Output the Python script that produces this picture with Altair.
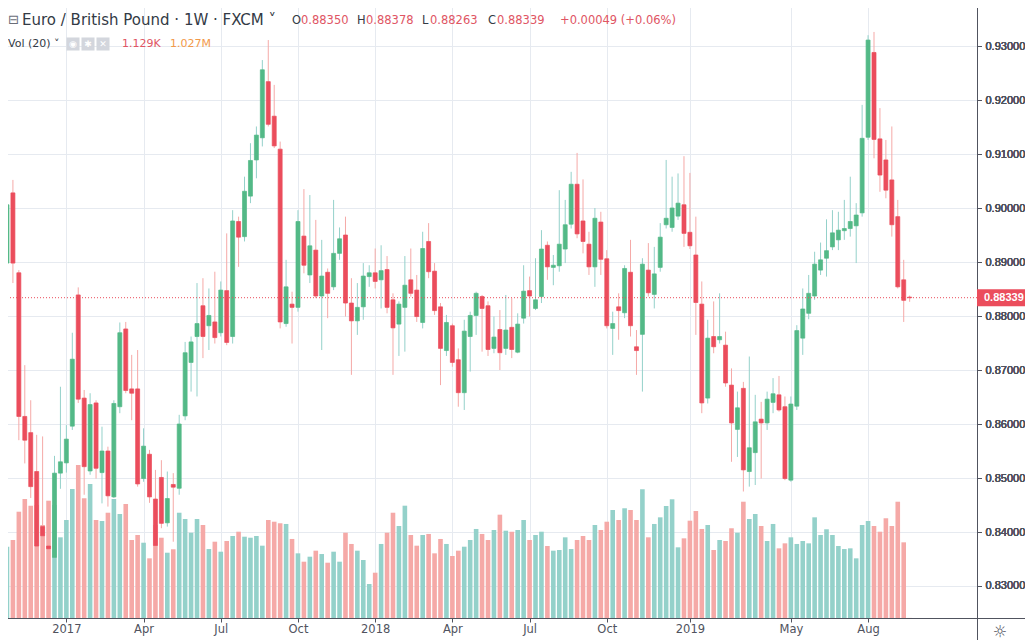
import altair as alt
import pandas as pd

# ---------------- data (weekly EUR/GBP, bar index 0 = week of 24 Oct 2016) ----------------
opens = [0.8898, 0.9028, 0.8880, 0.8614, 0.8584, 0.8512, 0.8410, 0.8374, 0.8353, 0.8509,
         0.8528, 0.8596, 0.8839, 0.8648, 0.8513, 0.8639, 0.8510, 0.8550, 0.8465, 0.8632,
         0.8776, 0.8665, 0.8665, 0.8499, 0.8544, 0.8461, 0.8501, 0.8417, 0.8488, 0.8481,
         0.8615, 0.8714, 0.8762, 0.8819, 0.8782, 0.8789, 0.8769, 0.8847, 0.8762, 0.8975,
         0.8947, 0.9022, 0.9089, 0.9130, 0.9234, 0.9170, 0.9109, 0.8786, 0.8822, 0.8816,
         0.8948, 0.8876, 0.8922, 0.8837, 0.8881, 0.8854, 0.8916, 0.8950, 0.8824, 0.8791,
         0.8817, 0.8873, 0.8880, 0.8867, 0.8886, 0.8830, 0.8785, 0.8816, 0.8867, 0.8848,
         0.8788, 0.8938, 0.8883, 0.8817, 0.8736, 0.8782, 0.8719, 0.8658, 0.8762, 0.8801,
         0.8836, 0.8819, 0.8740, 0.8775, 0.8740, 0.8779, 0.8733, 0.8796, 0.8847, 0.8814,
         0.8836, 0.8931, 0.8890, 0.8893, 0.8924, 0.8970, 0.9044, 0.8976, 0.8933, 0.8891,
         0.8974, 0.8906, 0.8777, 0.8817, 0.8806, 0.8881, 0.8743, 0.8766, 0.8885, 0.8840,
         0.8890, 0.8969, 0.8964, 0.8985, 0.9006, 0.8955, 0.8913, 0.8822, 0.8648, 0.8762,
         0.8756, 0.8746, 0.8672, 0.8590, 0.8666, 0.8512, 0.8547, 0.8609, 0.8602, 0.8640,
         0.8654, 0.8632, 0.8496, 0.8633, 0.8759, 0.8805, 0.8837, 0.8885, 0.8907, 0.8928,
         0.8941, 0.8958, 0.8962, 0.8967, 0.8991, 0.9131, 0.9288, 0.9128, 0.9089, 0.9052,
         0.8984, 0.8867, 0.88350]
highs = [0.9019, 0.9052, 0.8885, 0.8709, 0.8644, 0.8580, 0.8577, 0.8422, 0.8541, 0.8669,
         0.8598, 0.8769, 0.8853, 0.8663, 0.8657, 0.8644, 0.8595, 0.8558, 0.8644, 0.8788,
         0.8789, 0.8728, 0.8737, 0.8592, 0.8552, 0.8515, 0.8533, 0.8512, 0.8509, 0.8617,
         0.8752, 0.8762, 0.8861, 0.8870, 0.8851, 0.8882, 0.8864, 0.8953, 0.8996, 0.8984,
         0.9058, 0.9120, 0.9151, 0.9274, 0.9311, 0.9228, 0.9123, 0.8904, 0.8845, 0.8996,
         0.9035, 0.9024, 0.8978, 0.8941, 0.8888, 0.9015, 0.8964, 0.8984, 0.8870, 0.8861,
         0.8898, 0.8894, 0.8925, 0.8931, 0.8911, 0.8842, 0.8827, 0.8911, 0.8925, 0.8876,
         0.8956, 0.8972, 0.8898, 0.8824, 0.8802, 0.8786, 0.8740, 0.8793, 0.8808, 0.8845,
         0.8839, 0.8827, 0.8799, 0.8811, 0.8839, 0.8833, 0.8805, 0.8894, 0.8873, 0.8907,
         0.8959, 0.8938, 0.8913, 0.9033, 0.9015, 0.9067, 0.9102, 0.9053, 0.8956, 0.9000,
         0.8993, 0.8922, 0.8808, 0.8842, 0.8894, 0.8941, 0.8774, 0.8907, 0.8935, 0.8928,
         0.8972, 0.9089, 0.9058, 0.9064, 0.9096, 0.9065, 0.8984, 0.8864, 0.8793, 0.8827,
         0.8842, 0.8771, 0.8703, 0.8660, 0.8678, 0.8725, 0.8654, 0.8641, 0.8660, 0.8685,
         0.8689, 0.8651, 0.8651, 0.8783, 0.8851, 0.8876, 0.8919, 0.8936, 0.8979, 0.8996,
         0.8993, 0.9015, 0.9058, 0.9009, 0.9191, 0.9320, 0.9326, 0.9185, 0.9126, 0.9151,
         0.9015, 0.8904, 0.88378]
lows = [0.8893, 0.8861, 0.8570, 0.8527, 0.8463, 0.8361, 0.8385, 0.8363, 0.8345, 0.8480,
        0.8510, 0.8589, 0.8639, 0.8469, 0.8506, 0.8499, 0.8453, 0.8447, 0.8463, 0.8620,
        0.8657, 0.8607, 0.8484, 0.8493, 0.8454, 0.8373, 0.8407, 0.8410, 0.8382, 0.8469,
        0.8607, 0.8660, 0.8651, 0.8722, 0.8737, 0.8749, 0.8762, 0.8746, 0.8749, 0.8891,
        0.8938, 0.9009, 0.9055, 0.9114, 0.9151, 0.9111, 0.8777, 0.8780, 0.8749, 0.8808,
        0.8879, 0.8861, 0.8833, 0.8737, 0.8796, 0.8848, 0.8904, 0.8799, 0.8691, 0.8765,
        0.8793, 0.8854, 0.8851, 0.8814, 0.8805, 0.8691, 0.8726, 0.8734, 0.8836, 0.8789,
        0.8777, 0.8870, 0.8802, 0.8672, 0.8726, 0.8706, 0.8632, 0.8626, 0.8697, 0.8765,
        0.8734, 0.8726, 0.8731, 0.8700, 0.8728, 0.8722, 0.8731, 0.8786, 0.8799, 0.8811,
        0.8824, 0.8867, 0.8857, 0.8882, 0.8898, 0.8962, 0.8944, 0.8916, 0.8876, 0.8854,
        0.8876, 0.8777, 0.8728, 0.8756, 0.8796, 0.8762, 0.8691, 0.8660, 0.8836, 0.8814,
        0.8882, 0.8962, 0.8956, 0.8978, 0.8928, 0.8924, 0.8765, 0.8620, 0.8638, 0.8731,
        0.8749, 0.8669, 0.8530, 0.8539, 0.8475, 0.8484, 0.8487, 0.8499, 0.8589, 0.8620,
        0.8623, 0.8496, 0.8493, 0.8626, 0.8728, 0.8794, 0.8830, 0.8876, 0.8873, 0.8922,
        0.8922, 0.8941, 0.8947, 0.8898, 0.8984, 0.9126, 0.9092, 0.9030, 0.9018, 0.8947,
        0.8851, 0.8789, 0.88263]
closes = [0.9006, 0.8898, 0.8614, 0.8570, 0.8484, 0.8374, 0.8393, 0.8369, 0.8509, 0.8530,
          0.8572, 0.8720, 0.8646, 0.8521, 0.8636, 0.8518, 0.8550, 0.8467, 0.8638, 0.8769,
          0.8662, 0.8657, 0.8489, 0.8559, 0.8465, 0.8375, 0.8416, 0.8462, 0.8483, 0.8600,
          0.8732, 0.8752, 0.8786, 0.8762, 0.8801, 0.8760, 0.8848, 0.8751, 0.8976, 0.8946,
          0.9031, 0.9088, 0.9135, 0.9256, 0.9155, 0.9115, 0.8789, 0.8854, 0.8816, 0.8975,
          0.8894, 0.8930, 0.8837, 0.8874, 0.8842, 0.8916, 0.8943, 0.8824, 0.8791, 0.8816,
          0.8874, 0.8880, 0.8864, 0.8884, 0.8816, 0.8778, 0.8822, 0.8857, 0.8842, 0.8799,
          0.8925, 0.8882, 0.8810, 0.8740, 0.8788, 0.8714, 0.8658, 0.8772, 0.8801, 0.8842,
          0.8814, 0.8738, 0.8761, 0.8732, 0.8774, 0.8738, 0.8785, 0.8846, 0.8837, 0.8830,
          0.8924, 0.8891, 0.8894, 0.8933, 0.8969, 0.9044, 0.8952, 0.8938, 0.8891, 0.8981,
          0.8905, 0.8782, 0.8786, 0.8810, 0.8888, 0.8782, 0.8736, 0.8896, 0.8843, 0.8878,
          0.8946, 0.8981, 0.9000, 0.9009, 0.8953, 0.8930, 0.8825, 0.8639, 0.8759, 0.8743,
          0.8762, 0.8676, 0.8602, 0.8630, 0.8515, 0.8556, 0.8604, 0.8602, 0.8646, 0.8656,
          0.8626, 0.8499, 0.8637, 0.8773, 0.8813, 0.8842, 0.8896, 0.8904, 0.8921, 0.8954,
          0.8959, 0.8962, 0.8975, 0.8987, 0.9129, 0.9311, 0.9127, 0.9061, 0.9033, 0.8969,
          0.8854, 0.8829, 0.88339]
# volume in millions
volumes = [0.913, 0.999, 1.361, 1.524, 1.438, 1.447, 1.191, 1.502, 1.447, 1.033,
           1.255, 1.652, 1.959, 1.533, 1.716, 1.255, 1.242, 1.348, 1.524, 1.332,
           1.460, 0.999, 1.063, 0.964, 0.764, 1.191, 1.028, 0.836, 0.880, 1.348,
           1.268, 1.092, 1.268, 1.191, 0.883, 0.977, 0.849, 0.986, 1.050, 1.105,
           1.041, 1.028, 1.050, 0.926, 1.255, 1.233, 1.213, 1.204, 1.012, 0.828,
           0.721, 0.785, 0.862, 0.819, 0.708, 0.849, 0.721, 1.092, 0.948, 0.862,
           0.743, 0.435, 0.580, 0.948, 1.092, 1.348, 1.178, 1.438, 1.063, 0.926,
           1.063, 1.076, 0.828, 1.012, 0.948, 0.794, 0.862, 0.913, 0.999, 1.140,
           1.076, 0.999, 1.127, 1.323, 1.118, 1.105, 1.127, 1.255, 0.999, 1.063,
           1.105, 0.922, 0.862, 0.871, 1.033, 0.883, 0.999, 1.050, 0.999, 1.191,
           1.127, 1.233, 1.383, 1.255, 1.405, 1.383, 1.255, 1.648, 1.033, 1.204,
           1.289, 1.434, 1.520, 0.905, 1.020, 1.246, 1.370, 1.140, 1.191, 0.871,
           0.999, 0.986, 1.149, 1.092, 1.489, 1.268, 1.332, 1.178, 0.986, 1.204,
           0.892, 0.956, 1.033, 0.948, 0.986, 0.956, 1.289, 1.063, 1.136, 1.063,
           0.922, 0.883, 0.892, 0.764, 1.191, 1.242, 1.178, 1.105, 1.277, 1.178,
           1.489, 0.969, 0.001129]

tick_idx = [10, 23, 36, 49, 62, 75, 88, 101, 115, 132, 145]
tick_labels = ["2017", "Apr", "Jul", "Oct", "2018", "Apr", "Jul", "Oct", "2019", "May", "Aug"]
price_ticks = [0.83, 0.84, 0.85, 0.86, 0.87, 0.88, 0.89, 0.90, 0.91, 0.92, 0.93]
last_price = 0.88339

df = pd.DataFrame({"i": list(range(len(opens))), "open": opens, "high": highs,
                   "low": lows, "close": closes, "vol": volumes})
df["dir"] = ["up" if c >= o else "down" for o, c in zip(opens, closes)]

# ---------------- styling ----------------
GREEN, RED = "#53b987", "#eb4d5c"
VUP, VDOWN = "#94d1ca", "#f5a9a7"
AXC = "#50535e"
GRID = "#e6eaf0"
FONT = "DejaVu Sans"
AXFONT = "Liberation Sans"
W, H = 977, 618

x_scale = alt.Scale(domain=[-1 / 3, 162.5], nice=False, zero=False)
y_scale = alt.Scale(domain=[0.824074, 0.938519], nice=False, zero=False)
v_scale = alt.Scale(domain=[0, 7.913], nice=False, zero=True)

label_expr = "{}[indexof({}, datum.value)]".format(
    "[" + ",".join("'%s'" % s for s in tick_labels) + "]",
    "[" + ",".join(str(v) for v in tick_idx) + "]")

x_axis = alt.Axis(values=tick_idx, labelExpr=label_expr, title=None, grid=True,
                  gridColor=GRID, domainColor=AXC, tickColor=AXC, tickSize=4,
                  labelPadding=1, labelFont=FONT, labelFontSize=11.5, labelColor=AXC,
                  labelFlush=False)
y_axis = alt.Axis(values=price_ticks, format=".5f", orient="right", title=None,
                  grid=True, gridColor=GRID, domainColor=AXC, tickColor=AXC, tickSize=4,
                  labelPadding=4, labelFont=AXFONT, labelFontSize=11, labelColor=AXC)

X = alt.X("i:Q", scale=x_scale, axis=x_axis)
dir_scale = alt.Scale(domain=["up", "down"], range=[GREEN, RED])
vol_color = alt.Scale(domain=["up", "down"], range=[VUP, VDOWN])

base = alt.Chart(df)

volume = base.mark_bar(size=4.6).encode(
    x=X,
    y=alt.Y("vol:Q", scale=v_scale, axis=None),
    y2=alt.datum(0),
    color=alt.Color("dir:N", scale=vol_color, legend=None),
)

wicks = base.mark_rule(strokeWidth=1).encode(
    x=X,
    y=alt.Y("low:Q", scale=y_scale, axis=y_axis),
    y2="high:Q",
    color=alt.Color("dir:N", scale=dir_scale, legend=None),
)

bodies = base.mark_bar(size=4, strokeWidth=0.7).encode(
    x=X,
    y=alt.Y("open:Q", scale=y_scale, axis=y_axis),
    y2="close:Q",
    fill=alt.Fill("dir:N", scale=dir_scale, legend=None),
    stroke=alt.Stroke("dir:N", scale=dir_scale, legend=None),
)

pdf = pd.DataFrame({"price": [last_price], "label": ["%.5f" % last_price]})
pbase = alt.Chart(pdf)
price_line = pbase.mark_rule(color=RED, strokeWidth=1, strokeDash=[1, 2]).encode(
    y=alt.Y("price:Q", scale=y_scale, axis=y_axis))
price_box = pbase.mark_rule(color=RED, strokeWidth=17, strokeCap="butt").encode(
    y=alt.Y("price:Q", scale=y_scale, axis=y_axis),
    x=alt.value(977), x2=alt.value(1040))
price_txt = pbase.mark_text(align="left", baseline="middle", color="white",
                            font=AXFONT, fontSize=11, fontWeight="bold").encode(
    y=alt.Y("price:Q", scale=y_scale, axis=y_axis),
    x=alt.value(984), text="label:N")

one = alt.Chart(pd.DataFrame({"a": [0]}))


def txt(s, x, y, color, size=12, weight="normal", font=FONT, align="left"):
    return one.mark_text(align=align, baseline="middle", color=color, fontSize=size,
                         fontWeight=weight, font=font).encode(
        x=alt.value(x), y=alt.value(y), text=alt.value(s))


HDR = "#333a45"
NUM = "#e05564"
header = [
    txt("⊟", 8, 20, "#6a6d78", 13),
    txt("Euro / British Pound · 1W · FXCM ˅", 22, 20, HDR, 15, "normal"),
    txt("O", 292, 21, HDR, 11.5), txt("0.88350", 301, 21, NUM, 11.5),
    txt("H", 357, 21, HDR, 11.5), txt("0.88378", 366, 21, NUM, 11.5),
    txt("L", 422, 21, HDR, 11.5), txt("0.88263", 430, 21, NUM, 11.5),
    txt("C", 488, 21, HDR, 11.5), txt("0.88339", 497, 21, NUM, 11.5),
    txt("+0.00049 (+0.06%)", 560, 21, NUM, 11.5),
    txt("Vol (20) ˅", 8, 44, HDR, 11),
    txt("1.129K", 122, 44, NUM, 11),
    txt("1.027M", 170, 44, "#f2994a", 11),
]
icons = [
    one.mark_square(size=170, color="#d3d6dd", opacity=1).encode(x=alt.value(73), y=alt.value(44)),
    one.mark_square(size=170, color="#d3d6dd", opacity=1).encode(x=alt.value(88), y=alt.value(44)),
    one.mark_square(size=170, color="#d3d6dd", opacity=1).encode(x=alt.value(103), y=alt.value(44)),
    txt("◉", 73, 44, "white", 9, align="center"),
    txt("✱", 88, 44, "white", 9, align="center"),
    txt("✕", 103, 44, "white", 9, align="center"),
]
frame = [
    one.mark_rule(color=AXC, strokeWidth=1).encode(
        x=alt.value(977), x2=alt.value(1040), y=alt.value(618.5)),
    one.mark_rule(color=AXC, strokeWidth=1).encode(
        x=alt.value(977.5), y=alt.value(618), y2=alt.value(660)),
    txt("☼", 1000, 632, "#50535e", 16, align="center"),
]

chart = alt.layer(
    volume, wicks, bodies, price_line, price_box, price_txt, *header, *icons, *frame
).resolve_scale(y="independent").properties(
    width=W, height=H,
    autosize=alt.AutoSizeParams(type="none"),
    padding={"left": -8, "top": -8, "right": 48, "bottom": 22},
    background="white",
).configure_view(stroke=None)

chart.save("out.html", embed_options={"renderer": "svg", "actions": False})
